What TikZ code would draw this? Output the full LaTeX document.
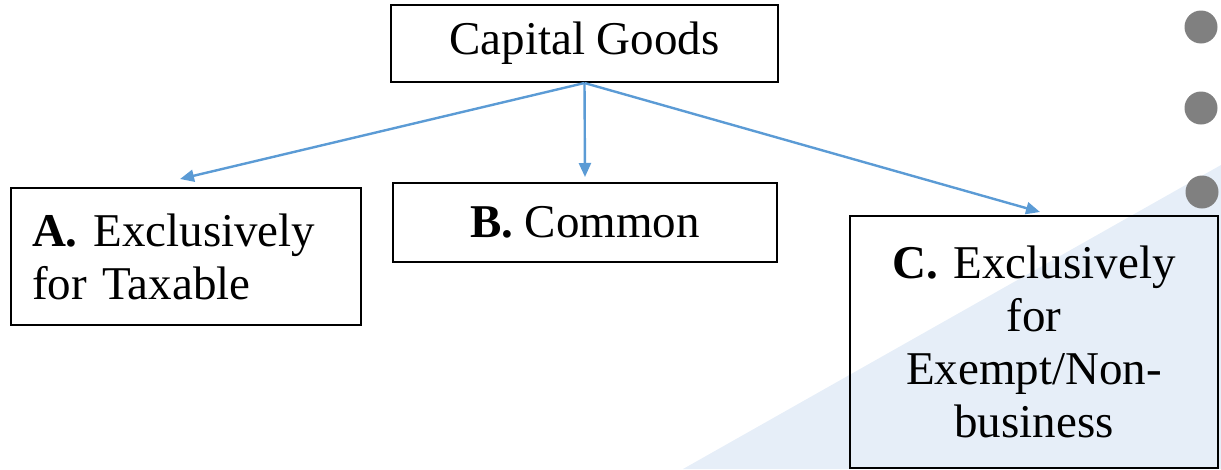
\documentclass[tikz,border=0pt]{standalone}
\usepackage{fontspec}
\setmainfont{Liberation Serif}
\usetikzlibrary{arrows.meta}
\definecolor{arrowblue}{RGB}{91,155,213}
\definecolor{bgblue}{RGB}{230,238,248}
\definecolor{dotgrey}{RGB}{128,128,128}
\begin{document}
\begin{tikzpicture}[x=1pt,y=-1pt,
  box/.style={draw=black,line width=2pt,inner sep=0pt,font=\fontsize{47}{53}\selectfont},
  conn/.style={draw=arrowblue,line width=2.4pt,-{Triangle[length=14pt,width=12pt]}}]
\useasboundingbox (0,0) rectangle (1221,469);
% background
\fill[bgblue] (683,469) -- (1221,165) -- (1221,469) -- cycle;
\fill[dotgrey] (1201,27) circle (16.5);
\fill[dotgrey] (1201,108) circle (16.5);
\fill[dotgrey] (1202,192) circle (16.5);
% nodes
\node[box,minimum width=387pt,minimum height=77pt] (cg) at (584.5,43.5) {Capital Goods};
\node[box,minimum width=350pt,minimum height=137pt,text width=308pt,align=left] (a) at (186,256.5) {\textbf{A.} Exclusively\\for Taxable};
\node[box,minimum width=384pt,minimum height=79pt] (b) at (585,222.5) {\textbf{B.} Common};
\node[box,minimum width=368pt,minimum height=252pt,text width=340pt,align=center] (c) at (1034,342) {\textbf{C.} Exclusively\\for\\Exempt/Non-\\business};
% connectors
\draw[conn] (cg.south) -- ([xshift=-6pt,yshift=8pt]a.north);
\draw[conn] (cg.south) -- ([yshift=5pt]b.north);
\draw[conn] (cg.south) -- ([xshift=6pt,yshift=3pt]c.north);
\end{tikzpicture}
\end{document}
